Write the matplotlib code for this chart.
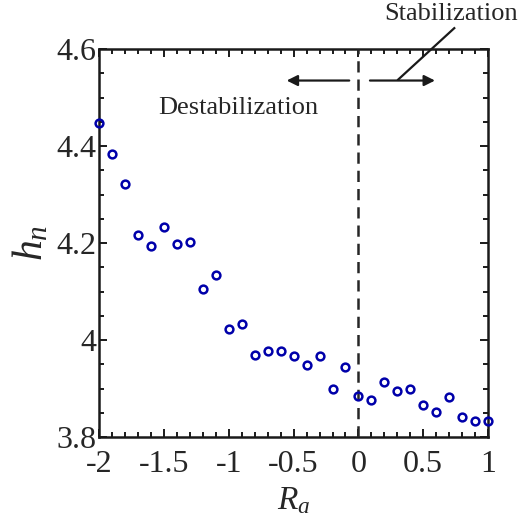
import numpy as np
import matplotlib
matplotlib.use('Agg')
import matplotlib.pyplot as plt
from matplotlib.ticker import MultipleLocator, FuncFormatter

matplotlib.rcParams['font.family'] = ['Liberation Serif', 'DejaVu Serif']
matplotlib.rcParams['mathtext.fontset'] = 'custom'
matplotlib.rcParams['mathtext.rm'] = 'Liberation Serif'
matplotlib.rcParams['mathtext.it'] = 'Liberation Serif:italic'
matplotlib.rcParams['axes.unicode_minus'] = False

# R_a 扫描值与对应的 h_n
ra = [-2.0, -1.9, -1.8, -1.7, -1.6, -1.5, -1.4, -1.3, -1.2, -1.1,
      -1.0, -0.9, -0.8, -0.7, -0.6, -0.5, -0.4, -0.3, -0.2, -0.1,
      0.0, 0.1, 0.2, 0.3, 0.4, 0.5, 0.6, 0.7, 0.8, 0.9, 1.0]
hn = [4.447, 4.383, 4.322, 4.216, 4.194, 4.234, 4.197, 4.202, 4.105, 4.135,
      4.023, 4.033, 3.969, 3.977, 3.977, 3.968, 3.948, 3.967, 3.898, 3.945,
      3.885, 3.876, 3.913, 3.895, 3.899, 3.865, 3.851, 3.882, 3.841, 3.833,
      3.832]

xticks = [-2, -1.5, -1, -0.5, 0, 0.5, 1]
yticks = [3.8, 4.0, 4.2, 4.4, 4.6]

fig = plt.figure(figsize=(5.23, 5.17), dpi=100)
ax = fig.add_axes([0.190, 0.1547, 0.743, 0.7505])

ax.plot(ra, hn, 'o', ls='none', mfc='none', mec='#0000AA', ms=5.6, mew=1.8, clip_on=False, zorder=5)

# 分界线
ax.axvline(0, color='#262626', lw=1.8, ls=(0, (4.5, 2.8)), zorder=3)

ax.set_xlim(-2, 1)
ax.set_ylim(3.8, 4.6)
ax.set_xticks(xticks)
ax.set_yticks(yticks)
ax.xaxis.set_minor_locator(MultipleLocator(0.1))
ax.yaxis.set_minor_locator(MultipleLocator(0.05))
fmt = FuncFormatter(lambda v, p: '%g' % v)
ax.xaxis.set_major_formatter(fmt)
ax.yaxis.set_major_formatter(fmt)

ax.tick_params(which='both', direction='in', top=True, right=True, color='#1a1a1a', width=1.4)
ax.tick_params(which='major', length=6)
ax.tick_params(which='minor', length=3.5)
ax.tick_params(axis='x', labelsize=23, pad=9, labelcolor='#262626')
ax.tick_params(axis='y', labelsize=23, pad=2, labelcolor='#262626')
for sp in ax.spines.values():
    sp.set_linewidth(1.8)
    sp.set_color('#1a1a1a')

ax.set_xlabel('$R_a$', fontsize=24, color='#262626', labelpad=5)
ax.set_ylabel('$h_n$', fontsize=30, color='#262626', labelpad=4)

# 箭头与说明文字
arr = dict(arrowstyle='-|>', color='#1a1a1a', lw=1.6, mutation_scale=16, shrinkA=0, shrinkB=0)
ax.annotate('', xy=(-0.554, 4.535), xytext=(-0.071, 4.535), arrowprops=arr)
ax.annotate('', xy=(0.591, 4.535), xytext=(0.089, 4.535), arrowprops=arr)
ax.plot([0.307, 0.74], [4.537, 4.643], color='#1a1a1a', lw=1.6, clip_on=False)
ax.text(0.713, 4.672, 'Stabilization', fontsize=19, ha='center', va='center', color='#262626')
ax.text(-0.93, 4.478, 'Destabilization', fontsize=19, ha='center', va='center', color='#262626')

fig.savefig('out.png', dpi=100)
